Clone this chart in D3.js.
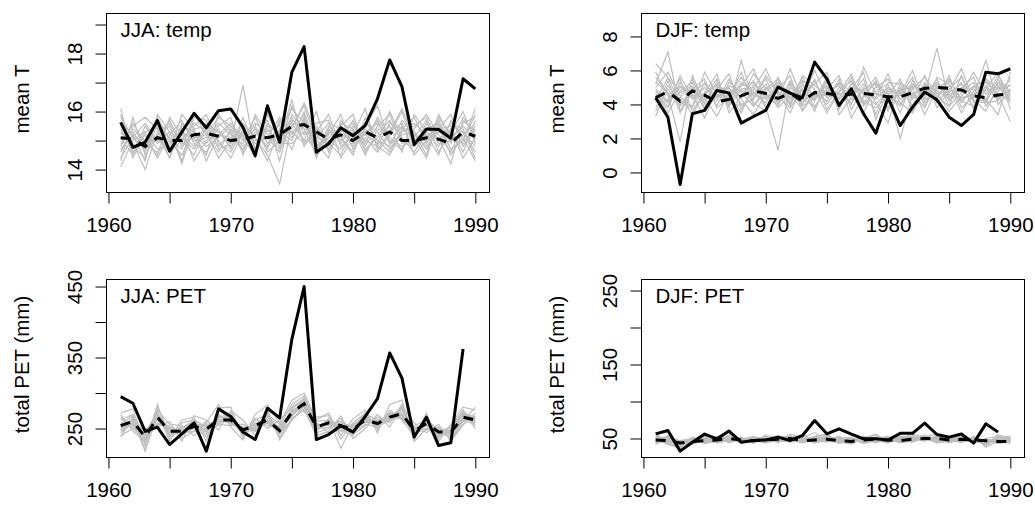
<!DOCTYPE html>
<html>
<head>
<meta charset="utf-8">
<script src="https://cdnjs.cloudflare.com/ajax/libs/d3/7.8.5/d3.min.js"></script>
<style>
  body { margin: 0; background: #fff; }
  svg { display: block; font-family: 'Liberation Sans', Arial, Helvetica, sans-serif; }
</style>
</head>
<body>
<svg class="chart" width="1035" height="506"></svg>
<script>
// years on the x axis
var years = d3.range(1961, 1991)
var xTicks = [1960, 1965, 1970, 1975, 1980, 1985, 1990]
var xLabels = [1960, 1970, 1980, 1990]

// JJA temp
var jjaTempObs = [15.63, 14.77, 14.94, 15.69, 14.63, 15.29, 15.94, 15.44, 16.03, 16.09, 15.46, 14.48, 16.2, 14.94, 17.36, 18.24, 14.6, 14.89, 15.44, 15.17, 15.52, 16.44, 17.78, 16.86, 14.86, 15.4, 15.38, 15.08, 17.13, 16.78]
var jjaTempMean = [15.1, 15.05, 14.8, 15.1, 15.0, 15.0, 15.2, 15.25, 15.15, 15.0, 15.05, 15.15, 15.1, 15.2, 15.5, 15.55, 15.3, 15.05, 15.2, 15.0, 15.3, 15.1, 15.3, 15.0, 15.0, 15.1, 15.05, 14.9, 15.3, 15.15]
var jjaTempRuns = [
  [15.3, 14.8, 14.4, 15.6, 15.1, 14.7, 15.9, 15.2, 14.6, 15.4, 15.0, 15.8, 14.9, 15.3, 16.1, 15.6, 14.8, 15.2, 15.9, 14.7, 15.3, 15.0, 14.6, 15.4, 15.8, 14.9, 15.5, 14.5, 15.2, 15.6],
  [14.6, 15.4, 15.0, 14.5, 15.8, 15.2, 14.8, 15.6, 15.3, 14.9, 16.9, 14.6, 15.4, 14.8, 15.5, 16.2, 15.0, 14.7, 15.3, 15.6, 14.8, 15.5, 15.9, 14.9, 15.1, 15.7, 14.6, 15.3, 16.0, 14.9],
  [15.8, 15.1, 14.7, 15.2, 14.4, 15.6, 15.1, 14.5, 15.9, 15.3, 14.8, 15.2, 15.7, 14.3, 15.9, 15.4, 15.3, 15.9, 14.8, 15.2, 16.1, 14.7, 15.3, 15.6, 14.5, 15.0, 15.4, 15.9, 14.8, 15.4],
  [15.1, 14.5, 15.5, 14.9, 15.3, 14.2, 15.5, 15.9, 14.9, 14.6, 15.4, 14.9, 15.1, 15.8, 15.2, 15.9, 14.6, 15.5, 15.1, 14.6, 15.5, 16.2, 14.9, 15.2, 15.3, 14.5, 15.9, 15.1, 15.5, 15.0],
  [14.1, 15.0, 15.3, 14.7, 14.9, 15.4, 14.3, 15.0, 15.5, 15.8, 14.5, 15.5, 14.6, 15.0, 16.4, 14.8, 15.5, 14.9, 14.5, 15.4, 14.7, 15.1, 15.5, 14.6, 15.9, 15.3, 14.8, 15.4, 14.6, 15.7],
  [15.5, 14.9, 14.0, 15.3, 15.6, 14.8, 15.2, 14.8, 15.1, 15.5, 15.2, 14.4, 16.0, 14.9, 14.9, 15.3, 15.1, 15.6, 15.4, 14.9, 15.1, 14.6, 15.2, 16.0, 14.8, 15.2, 15.1, 14.2, 15.7, 15.3],
  [14.8, 15.6, 14.9, 15.1, 14.6, 15.0, 15.6, 15.3, 14.4, 15.0, 15.6, 15.1, 14.5, 13.5, 15.6, 15.0, 14.9, 14.4, 15.7, 15.1, 15.6, 15.3, 14.7, 15.3, 15.5, 15.8, 14.9, 15.0, 15.3, 14.6],
  [15.9, 14.7, 15.2, 14.4, 15.2, 15.7, 14.9, 14.6, 15.2, 15.1, 14.9, 15.6, 15.3, 15.5, 15.1, 15.7, 14.7, 15.3, 15.0, 15.7, 14.9, 15.8, 15.1, 14.8, 15.0, 15.4, 15.6, 14.7, 15.0, 16.1],
  [15.2, 15.3, 14.6, 15.8, 15.0, 14.5, 15.4, 15.5, 15.0, 14.4, 15.3, 14.7, 15.6, 15.2, 15.3, 14.9, 15.4, 15.0, 14.7, 15.3, 15.2, 14.9, 16.0, 15.1, 14.6, 15.3, 15.0, 15.6, 15.4, 14.4],
  [14.4, 15.1, 15.6, 15.0, 14.8, 15.3, 15.0, 15.1, 15.6, 15.2, 14.7, 15.3, 14.8, 15.6, 15.4, 16.3, 15.2, 14.8, 15.4, 14.8, 15.4, 15.0, 14.8, 15.7, 15.2, 14.8, 15.3, 15.1, 14.9, 15.5],
  [16.1, 14.4, 15.3, 15.5, 14.6, 15.9, 15.4, 14.3, 15.2, 15.6, 15.1, 14.5, 15.9, 15.1, 15.8, 15.0, 16.0, 14.6, 15.6, 15.4, 14.5, 15.4, 15.3, 16.1, 15.1, 14.4, 15.7, 14.9, 15.8, 15.2],
  [14.3, 15.8, 14.5, 15.2, 15.5, 14.3, 15.8, 15.7, 14.7, 14.9, 15.5, 15.1, 14.3, 15.4, 14.7, 15.8, 14.4, 15.3, 15.1, 14.5, 15.8, 14.8, 14.5, 15.3, 15.6, 15.2, 14.5, 15.7, 15.1, 14.3],
  [15.6, 15.2, 14.9, 14.6, 15.0, 15.1, 14.7, 15.4, 14.8, 15.3, 14.6, 15.9, 15.2, 14.7, 16.2, 15.2, 15.6, 15.7, 14.4, 15.1, 15.3, 15.6, 15.0, 14.7, 15.4, 15.9, 15.2, 14.6, 15.6, 15.8],
  [14.9, 15.5, 15.8, 15.4, 14.4, 15.5, 15.3, 14.9, 15.4, 14.7, 15.8, 14.7, 15.5, 15.3, 15.0, 16.0, 14.8, 15.1, 15.5, 15.9, 14.6, 15.2, 15.7, 15.0, 14.8, 15.6, 15.0, 15.4, 14.4, 15.1],
  [15.4, 14.6, 15.0, 15.0, 15.7, 14.9, 15.1, 15.2, 15.8, 15.5, 15.0, 15.4, 14.7, 15.7, 15.3, 15.5, 15.1, 14.9, 15.2, 15.0, 15.2, 15.7, 14.9, 15.5, 15.0, 15.0, 15.8, 15.2, 15.0, 15.9],
  [14.7, 15.2, 14.3, 15.9, 15.3, 15.0, 14.5, 15.5, 15.3, 14.8, 15.2, 15.0, 15.1, 14.6, 15.7, 15.4, 14.5, 15.4, 14.9, 15.5, 15.0, 14.8, 15.6, 15.4, 15.3, 14.7, 15.4, 15.5, 15.3, 14.8]
]

// DJF temp
var djfTempObs = [4.39, 3.25, -0.71, 3.45, 3.65, 4.82, 4.67, 2.9, 3.29, 3.65, 5.02, 4.67, 4.39, 6.49, 5.51, 3.94, 4.92, 3.45, 2.31, 4.39, 2.76, 3.84, 4.73, 4.27, 3.25, 2.76, 3.41, 5.9, 5.8, 6.1]
var djfTempMean = [4.4, 4.75, 4.2, 4.8, 4.55, 4.15, 4.3, 4.5, 4.8, 4.65, 4.35, 4.65, 4.2, 4.7, 4.65, 4.55, 4.6, 4.65, 4.55, 4.45, 4.45, 4.7, 4.95, 5.0, 4.95, 4.85, 4.5, 4.4, 4.55, 4.65]
var djfTempRuns = [
  [5.2, 7.1, 3.6, 4.9, 5.5, 3.8, 4.4, 5.9, 3.9, 4.8, 5.3, 4.1, 5.6, 4.3, 4.9, 5.7, 3.7, 5.0, 4.4, 5.8, 4.0, 5.1, 4.6, 7.3, 4.2, 5.0, 5.6, 3.9, 4.8, 5.4],
  [3.9, 4.3, 5.5, 3.6, 4.7, 5.8, 3.5, 4.5, 5.4, 3.9, 1.3, 5.2, 4.0, 5.5, 3.7, 4.8, 5.4, 4.2, 3.8, 4.5, 5.5, 3.6, 5.2, 4.3, 5.7, 3.8, 4.5, 6.6, 4.0, 4.8],
  [6.4, 5.6, 4.0, 4.6, 3.2, 4.9, 5.8, 3.7, 4.9, 6.1, 4.5, 3.8, 4.9, 3.6, 5.5, 4.1, 4.9, 5.9, 3.1, 4.9, 4.6, 6.0, 4.1, 5.1, 4.4, 5.3, 3.7, 4.9, 5.9, 3.7],
  [4.7, 3.5, 4.8, 5.3, 4.4, 3.3, 4.7, 5.1, 6.1, 4.3, 4.9, 5.7, 3.6, 4.7, 4.2, 5.5, 3.2, 4.5, 5.3, 3.8, 4.9, 4.3, 5.7, 3.8, 4.8, 6.1, 4.3, 3.6, 5.1, 4.3],
  [3.3, 5.1, 4.2, 3.9, 5.9, 4.6, 4.1, 3.9, 4.4, 5.2, 3.8, 4.5, 5.4, 4.9, 3.5, 4.7, 5.8, 3.9, 4.8, 5.2, 3.5, 5.4, 4.3, 4.7, 3.6, 4.5, 5.1, 4.3, 3.4, 5.9],
  [5.6, 4.6, 1.8, 5.7, 4.1, 5.3, 3.8, 6.6, 4.1, 3.6, 5.6, 4.3, 4.6, 5.2, 5.9, 3.4, 4.4, 5.2, 4.1, 2.9, 5.3, 4.7, 3.8, 5.6, 5.2, 3.5, 4.8, 5.3, 4.6, 3.0],
  [4.4, 3.8, 5.3, 4.3, 5.0, 4.2, 5.5, 4.3, 3.4, 4.6, 4.2, 6.1, 4.3, 3.9, 4.8, 5.1, 4.0, 6.2, 4.6, 4.4, 4.1, 3.5, 4.9, 4.5, 3.9, 4.7, 5.9, 4.6, 5.2, 4.5],
  [5.0, 5.9, 4.5, 3.4, 4.7, 5.1, 4.6, 3.5, 5.2, 4.5, 4.7, 3.5, 5.1, 4.5, 5.1, 3.9, 5.2, 4.7, 5.6, 4.1, 4.8, 5.0, 3.4, 4.9, 5.5, 4.2, 3.9, 5.1, 4.4, 5.2],
  [4.1, 4.9, 3.9, 5.0, 3.7, 4.5, 5.1, 4.8, 4.6, 5.5, 4.0, 5.0, 4.4, 6.0, 4.4, 4.6, 4.7, 3.5, 5.1, 4.7, 2.0, 4.6, 5.0, 4.1, 4.9, 5.6, 4.2, 4.1, 5.5, 4.1],
  [4.8, 4.1, 5.0, 4.7, 4.3, 4.8, 4.3, 5.3, 4.7, 4.1, 5.1, 4.8, 3.9, 4.4, 5.3, 4.3, 5.0, 4.8, 4.3, 5.0, 4.7, 5.2, 4.7, 5.3, 4.5, 4.4, 4.6, 5.0, 4.3, 4.9],
  [5.9, 4.5, 4.4, 5.5, 3.8, 5.0, 4.9, 4.4, 5.8, 4.9, 5.5, 3.9, 5.7, 5.1, 4.6, 4.4, 5.6, 4.1, 5.0, 5.5, 4.3, 4.9, 5.6, 4.6, 5.1, 4.1, 5.0, 5.5, 4.9, 5.1],
  [3.6, 5.4, 3.5, 4.8, 5.2, 4.4, 5.0, 4.0, 4.3, 5.7, 4.6, 4.6, 3.7, 4.6, 4.5, 5.3, 4.3, 4.4, 5.4, 3.6, 5.0, 4.4, 4.4, 5.5, 3.9, 5.7, 4.1, 4.3, 5.7, 4.6],
  [4.6, 3.9, 5.7, 4.4, 4.5, 5.5, 3.9, 4.9, 5.0, 3.8, 5.3, 4.4, 4.8, 4.2, 5.6, 3.7, 5.3, 4.6, 4.0, 4.8, 4.5, 5.6, 3.9, 5.0, 4.6, 4.8, 5.3, 4.1, 4.2, 5.6],
  [5.3, 4.7, 4.1, 3.8, 5.3, 3.9, 5.3, 4.7, 3.9, 5.0, 4.1, 5.3, 4.5, 5.4, 4.0, 5.0, 4.6, 5.5, 3.4, 5.3, 5.2, 3.9, 5.3, 4.4, 5.4, 4.3, 4.6, 4.8, 5.0, 4.4],
  [4.2, 5.6, 4.7, 5.1, 4.0, 4.5, 4.5, 5.6, 4.5, 4.4, 4.8, 4.0, 5.3, 3.8, 5.0, 4.6, 4.1, 4.9, 5.2, 4.6, 3.9, 5.1, 4.5, 5.2, 4.7, 5.2, 3.8, 5.4, 4.6, 4.2],
  [4.9, 4.2, 5.1, 4.5, 4.6, 5.2, 4.1, 5.1, 5.3, 4.6, 3.9, 5.4, 4.1, 4.8, 4.7, 5.2, 4.8, 4.0, 4.7, 4.3, 4.7, 4.5, 5.1, 4.8, 4.3, 4.9, 4.9, 4.2, 5.3, 4.8]
]

// JJA PET (obs missing for 1990)
var jjaPetObs = [295, 285.6, 246, 252, 227.5, 242.5, 258, 218, 277.7, 267, 245, 234.5, 278.6, 265, 376, 450, 234.5, 241.5, 254, 245, 267, 292, 356.5, 321, 238, 266, 226, 230, 362, null]
var jjaPetMean = [254, 260, 238, 266, 246, 246, 253, 249, 262, 262, 248, 254, 262, 247, 273, 285, 252, 258, 254, 249, 262, 257, 266, 271, 247, 257, 245, 245, 266, 262]
var jjaPetRuns = [
  [272, 278, 226, 284, 236, 262, 266, 232, 279, 280, 236, 270, 283, 258, 290, 300, 262, 272, 240, 264, 276, 244, 284, 290, 234, 272, 232, 256, 280, 276],
  [240, 250, 250, 252, 260, 232, 268, 262, 248, 275, 262, 240, 276, 234, 262, 278, 240, 246, 268, 236, 250, 270, 252, 282, 258, 244, 256, 232, 255, 272],
  [262, 270, 220, 276, 256, 254, 240, 258, 284, 252, 234, 264, 250, 262, 280, 292, 266, 268, 235, 258, 272, 248, 276, 262, 240, 266, 238, 254, 274, 250],
  [238, 266, 244, 274, 232, 258, 262, 238, 270, 256, 256, 246, 270, 238, 264, 276, 244, 250, 264, 242, 254, 266, 258, 284, 232, 250, 252, 236, 260, 280],
  [270, 246, 232, 258, 254, 236, 246, 260, 254, 274, 240, 264, 254, 254, 284, 296, 258, 244, 248, 240, 268, 250, 272, 264, 254, 262, 236, 250, 276, 254],
  [248, 262, 218, 270, 240, 252, 258, 244, 268, 258, 252, 246, 266, 244, 262, 282, 246, 264, 222, 256, 258, 262, 260, 276, 244, 248, 252, 234, 256, 268],
  [258, 256, 242, 262, 250, 242, 250, 254, 258, 268, 244, 258, 258, 252, 276, 274, 256, 256, 260, 250, 266, 254, 270, 264, 246, 262, 242, 248, 270, 260],
  [246, 258, 246, 266, 244, 246, 256, 246, 264, 256, 252, 250, 272, 242, 272, 288, 250, 252, 258, 252, 260, 258, 272, 268, 250, 254, 248, 242, 264, 258],
  [264, 250, 234, 272, 246, 240, 254, 256, 258, 266, 246, 256, 262, 250, 268, 284, 260, 262, 250, 244, 264, 254, 264, 278, 246, 260, 240, 246, 260, 266],
  [250, 264, 236, 262, 248, 248, 250, 248, 262, 262, 248, 252, 262, 248, 278, 290, 250, 258, 252, 248, 262, 258, 268, 270, 248, 256, 244, 244, 268, 262],
  [266, 254, 230, 280, 242, 250, 262, 252, 266, 270, 244, 262, 270, 256, 270, 286, 248, 262, 246, 254, 270, 262, 266, 280, 242, 264, 246, 252, 272, 266],
  [244, 258, 240, 256, 252, 244, 246, 242, 256, 254, 256, 248, 258, 244, 274, 280, 256, 254, 260, 246, 256, 252, 262, 266, 252, 250, 242, 240, 262, 256],
  [256, 268, 236, 268, 238, 252, 252, 250, 266, 264, 250, 254, 268, 250, 266, 294, 252, 260, 254, 250, 262, 256, 270, 272, 240, 258, 250, 244, 270, 264],
  [252, 254, 242, 264, 250, 248, 256, 254, 260, 260, 242, 250, 260, 246, 276, 282, 254, 256, 250, 256, 264, 260, 264, 268, 250, 254, 244, 248, 264, 260]
]

// DJF PET (obs missing for 1990)
var djfPetObs = [56.3, 60.8, 32.9, 45, 56, 49.5, 60, 45, 47.3, 48, 51.8, 47.3, 54, 74.3, 56.3, 63, 56, 49.5, 49.5, 48, 57, 57, 70.7, 55.4, 51.8, 56, 43.7, 69.8, 58.6, null]
var djfPetMean = [48, 47, 44, 46, 47, 48, 50, 48, 47, 48, 49, 50, 47, 48, 49, 47, 46, 48, 49, 48, 47, 49, 50, 50, 48, 49, 48, 47, 46, 46]
var djfPetRuns = [
  [53, 50, 40, 49, 52, 46, 55, 47, 52, 50, 44, 56, 51, 58, 46, 52, 44, 51, 54, 47, 50, 56, 52, 57, 45, 53, 49, 41, 55, 50],
  [44, 46, 46, 42, 49, 51, 45, 52, 43, 55, 50, 47, 45, 50, 53, 43, 49, 45, 52, 50, 44, 48, 55, 47, 52, 46, 51, 48, 43, 46],
  [49, 42, 38, 51, 45, 48, 51, 44, 49, 46, 53, 52, 49, 46, 50, 48, 42, 53, 47, 44, 52, 51, 47, 53, 49, 50, 45, 44, 49, 52],
  [51, 49, 44, 47, 50, 44, 48, 50, 46, 52, 47, 49, 56, 47, 47, 51, 47, 49, 50, 53, 46, 45, 51, 49, 46, 54, 48, 46, 51, 44],
  [46, 53, 42, 45, 46, 53, 52, 45, 51, 48, 49, 45, 47, 52, 55, 45, 50, 47, 45, 49, 51, 53, 48, 52, 51, 47, 52, 38, 47, 49],
  [55, 45, 47, 50, 43, 47, 46, 49, 47, 44, 51, 51, 50, 44, 48, 50, 45, 50, 56, 46, 49, 47, 53, 45, 48, 51, 44, 50, 53, 47],
  [47, 48, 41, 44, 48, 50, 49, 46, 50, 51, 46, 48, 44, 49, 51, 46, 48, 44, 48, 51, 47, 50, 49, 50, 44, 49, 50, 45, 46, 51],
  [50, 47, 45, 48, 51, 46, 47, 48, 45, 49, 48, 53, 48, 51, 49, 49, 46, 52, 50, 45, 48, 49, 50, 48, 50, 48, 47, 47, 50, 48],
  [43, 51, 43, 46, 47, 49, 50, 51, 48, 47, 52, 50, 46, 48, 52, 47, 51, 48, 46, 48, 50, 46, 52, 51, 47, 45, 49, 43, 48, 45],
  [48, 44, 39, 49, 45, 45, 48, 47, 50, 46, 49, 47, 52, 45, 47, 44, 49, 46, 49, 47, 45, 52, 48, 46, 52, 50, 46, 44, 52, 50],
  [57, 43, 36, 52, 44, 50, 53, 43, 51, 45, 50, 54, 48, 53, 56, 45, 43, 50, 55, 44, 53, 51, 46, 55, 50, 44, 53, 40, 52, 53],
  [42, 52, 47, 44, 53, 44, 47, 51, 44, 53, 46, 46, 53, 47, 45, 50, 52, 43, 47, 52, 45, 54, 50, 44, 46, 52, 46, 49, 44, 47],
  [50, 46, 42, 50, 47, 52, 44, 49, 53, 47, 54, 49, 45, 50, 49, 53, 45, 51, 44, 49, 51, 46, 53, 50, 53, 48, 50, 45, 50, 43],
  [46, 50, 44, 47, 49, 46, 51, 45, 47, 50, 45, 52, 50, 46, 53, 46, 50, 47, 51, 46, 48, 50, 47, 52, 45, 51, 47, 48, 47, 51],
  [52, 48, 40, 45, 51, 48, 46, 50, 49, 44, 48, 47, 47, 52, 47, 48, 47, 53, 48, 50, 46, 47, 51, 49, 49, 47, 49, 42, 53, 48],
  [45, 54, 45, 49, 45, 49, 50, 47, 46, 51, 51, 51, 49, 45, 51, 44, 48, 45, 50, 47, 52, 48, 49, 47, 51, 50, 44, 46, 48, 46]
]

// y ticks per panel
var jjaTempTicks = [14, 15, 16, 17, 18, 19]
var jjaTempLabels = [14, 16, 18]
var djfTempTicks = [0, 2, 4, 6, 8]
var djfTempLabels = [0, 2, 4, 6, 8]
var jjaPetTicks = [250, 300, 350, 400, 450]
var jjaPetLabels = [250, 350, 450]
var djfPetTicks = [50, 100, 150, 200, 250]
var djfPetLabels = [50, 150, 250]

const fontSize = '20.5px'
const svg = d3.select('.chart')
svg.append('rect').attr('width', 1035).attr('height', 506).attr('fill', '#fff')

function toPoints(values) {
  return values.map(function(v, i) {
    return { year: years[i], value: v }
  })
}

function drawPanel(opts) {
  const left = opts.left, top = opts.top, w = opts.w, h = opts.h

  const xScale = d3.scaleLinear().domain([1959.84, 1991.16]).range([0, w])
  const yScale = d3.scaleLinear().domain(opts.yDomain).range([h, 0])

  const g = svg.append('g').attr('transform', `translate(${left}, ${top})`)

  const line = d3
    .line()
    .defined(d => d.value != null)
    .x(d => xScale(d.year))
    .y(d => yScale(d.value))

  const clip = 'clip' + opts.id
  g.append('clipPath').attr('id', clip).append('rect').attr('width', w).attr('height', h)
  const plot = g.append('g').attr('clip-path', `url(#${clip})`)

  // ensemble members
  plot
    .selectAll('.run')
    .data(opts.runs)
    .enter()
    .append('path')
    .attr('class', 'run')
    .attr('d', d => line(toPoints(d)))
    .attr('fill', 'none')
    .attr('stroke', '#bebebe')
    .attr('stroke-width', 1.2)

  // ensemble mean, dashed
  plot
    .append('path')
    .attr('d', line(toPoints(opts.mean)))
    .attr('fill', 'none')
    .attr('stroke', '#000')
    .attr('stroke-width', 3)
    .attr('stroke-dasharray', '10,9')

  // observed
  plot
    .append('path')
    .attr('d', line(toPoints(opts.obs)))
    .attr('fill', 'none')
    .attr('stroke', '#000')
    .attr('stroke-width', 3)
    .attr('stroke-linejoin', 'round')

  // box
  g.append('rect')
    .attr('width', w)
    .attr('height', h)
    .attr('fill', 'none')
    .attr('stroke', '#000')
    .attr('stroke-width', 1)

  // x axis
  const xAxis = g
    .append('g')
    .attr('transform', `translate(0, ${h})`)
    .call(
      d3
        .axisBottom(xScale)
        .tickValues(xTicks)
        .tickSize(11)
        .tickSizeOuter(0)
        .tickFormat(d => (xLabels.indexOf(d) >= 0 ? d : ''))
    )
  xAxis.select('.domain').remove()
  xAxis
    .selectAll('text')
    .attr('y', 39)
    .attr('dy', 0)
    .style('font-size', fontSize)
    .style('font-family', null)

  // y axis
  const yAxis = g.append('g').call(
    d3
      .axisLeft(yScale)
      .tickValues(opts.yTicks)
      .tickSize(11)
      .tickSizeOuter(0)
      .tickFormat(d => (opts.yLabels.indexOf(d) >= 0 ? d : ''))
  )
  yAxis.select('.domain').remove()
  yAxis
    .selectAll('text')
    .attr('transform', 'rotate(-90)')
    .attr('x', 0)
    .attr('y', -25)
    .attr('dy', 0)
    .attr('text-anchor', 'middle')
    .style('font-size', fontSize)
    .style('font-family', null)
  g.selectAll('.tick line').attr('stroke', '#000')

  // axis title
  g.append('text')
    .attr('transform', `translate(${-78}, ${h / 2 - 4}) rotate(-90)`)
    .attr('text-anchor', 'middle')
    .style('font-size', fontSize)
    .text(opts.ylab)

  // panel title
  g.append('text')
    .attr('x', 14)
    .attr('y', 23)
    .style('font-size', fontSize)
    .text(opts.title)
}

drawPanel({ id: 1, left: 106.5, top: 13.5, w: 383, h: 179, yDomain: [13.21, 19.38], yTicks: jjaTempTicks, yLabels: jjaTempLabels, runs: jjaTempRuns, mean: jjaTempMean, obs: jjaTempObs, title: 'JJA: temp', ylab: 'mean T' })
drawPanel({ id: 2, left: 641.5, top: 13.5, w: 383, h: 179, yDomain: [-1.18, 9.35], yTicks: djfTempTicks, yLabels: djfTempLabels, runs: djfTempRuns, mean: djfTempMean, obs: djfTempObs, title: 'DJF: temp', ylab: 'mean T' })
drawPanel({ id: 3, left: 106.5, top: 279.5, w: 383, h: 178, yDomain: [209.2, 459.9], yTicks: jjaPetTicks, yLabels: jjaPetLabels, runs: jjaPetRuns, mean: jjaPetMean, obs: jjaPetObs, title: 'JJA: PET', ylab: 'total PET (mm)' })
drawPanel({ id: 4, left: 641.5, top: 279.5, w: 383, h: 178, yDomain: [24.3, 264.9], yTicks: djfPetTicks, yLabels: djfPetLabels, runs: djfPetRuns, mean: djfPetMean, obs: djfPetObs, title: 'DJF: PET', ylab: 'total PET (mm)' })
</script>
</body>
</html>
